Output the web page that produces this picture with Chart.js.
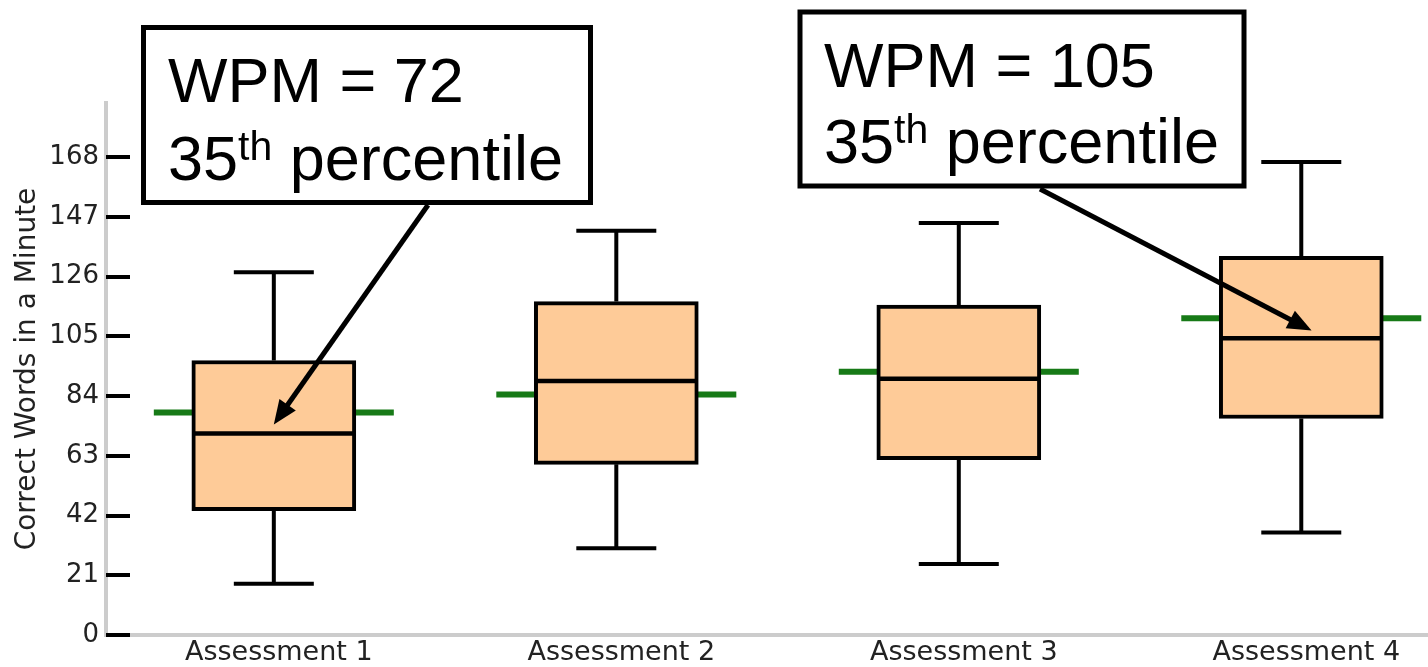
<!DOCTYPE html>
<html>
<head>
<meta charset="utf-8">
<script src="https://cdn.jsdelivr.net/npm/chart.js@4/dist/chart.umd.min.js"></script>
<style>
  html, body { margin: 0; padding: 0; background: #fff; }
  #wrap { width: 1428px; height: 667px; }
</style>
</head>
<body>
<div id="wrap"><canvas id="boxChart" width="1428" height="667"></canvas></div>
<script>
// ---------- data ----------
var categories   = ['Assessment 1', 'Assessment 2', 'Assessment 3', 'Assessment 4'];
var whiskerLow   = [18, 30.5, 25, 36];
var quartile1    = [43.7, 60, 61.6, 76.1];
var medians      = [70.8, 89.3, 90.1, 104.3];
var quartile3    = [96.5, 117.2, 116, 133.1];
var whiskerHigh  = [127.5, 142.1, 144.8, 166.3];
var benchmark    = [78.2, 84.5, 92.5, 111.3];   // green lines

var yMax = 187;
var yStep = 21;
var yTitle = 'Correct Words in a Minute';

// callouts
var noteWpm        = [72, 105];
var notePercentile = ['35', '35'];
var noteTargetX    = [0, 3.03];     // arrow tips, in data units
var noteTargetY    = [74, 107];

// ---------- look ----------
var boxFill   = '#fecb98';
var inkColor  = '#000';
var greenLine = '#177a17';
var axisGray  = '#cccccc';
var labelFont = '"DejaVu Sans", Verdana, sans-serif';
var noteFont  = '"Liberation Sans", Arial, sans-serif';

var noteBoxes = [
    {x: 143.5, y: 27.5, w: 447, h: 175, tx: 168, base1: 102, base2: 180, tailX: 428, tailY: 205},
    {x: 800,   y: 12,   w: 444, h: 174, tx: 824, base1: 87,  base2: 163, tailX: 1040, tailY: 189}
];

// green benchmark lines, drawn behind the boxes
var benchmarkPlugin = {
    id: 'benchmark',
    beforeDatasetsDraw: function(chart) {
        var ctx = chart.ctx, xs = chart.scales.x, ys = chart.scales.y;
        ctx.save();
        ctx.strokeStyle = greenLine;
        ctx.lineWidth = 6;
        benchmark.forEach(function(v, i) {
            var cx = xs.getPixelForValue(i), py = ys.getPixelForValue(v);
            ctx.beginPath();
            ctx.moveTo(cx - 120, py);
            ctx.lineTo(cx + 120, py);
            ctx.stroke();
        });
        ctx.restore();
    }
};

// whiskers, caps and medians on top of the boxes
var whiskerPlugin = {
    id: 'whiskers',
    afterDatasetsDraw: function(chart) {
        var ctx = chart.ctx, xs = chart.scales.x, ys = chart.scales.y;
        ctx.save();
        ctx.strokeStyle = inkColor;
        ctx.lineCap = 'butt';
        categories.forEach(function(c, i) {
            var cx = xs.getPixelForValue(i);
            ctx.lineWidth = 4;
            ctx.beginPath();
            ctx.moveTo(cx, ys.getPixelForValue(quartile3[i]));
            ctx.lineTo(cx, ys.getPixelForValue(whiskerHigh[i]));
            ctx.moveTo(cx, ys.getPixelForValue(quartile1[i]));
            ctx.lineTo(cx, ys.getPixelForValue(whiskerLow[i]));
            ctx.moveTo(cx - 40, ys.getPixelForValue(whiskerHigh[i]));
            ctx.lineTo(cx + 40, ys.getPixelForValue(whiskerHigh[i]));
            ctx.moveTo(cx - 40, ys.getPixelForValue(whiskerLow[i]));
            ctx.lineTo(cx + 40, ys.getPixelForValue(whiskerLow[i]));
            ctx.stroke();
            ctx.lineWidth = 4.5;
            ctx.beginPath();
            ctx.moveTo(cx - 80, ys.getPixelForValue(medians[i]));
            ctx.lineTo(cx + 80, ys.getPixelForValue(medians[i]));
            ctx.stroke();
        });
        ctx.restore();
    }
};

// short tick marks pointing into the plot + callouts
var overlayPlugin = {
    id: 'overlay',
    afterDraw: function(chart) {
        var ctx = chart.ctx, xs = chart.scales.x, ys = chart.scales.y;
        var left = chart.chartArea.left;
        ctx.save();
        ctx.strokeStyle = inkColor;
        ctx.lineWidth = 4;
        ys.ticks.forEach(function(t) {
            var py = Math.round(ys.getPixelForValue(t.value));
            ctx.beginPath();
            ctx.moveTo(left, py);
            ctx.lineTo(left + 24, py);
            ctx.stroke();
        });

        noteBoxes.forEach(function(b, i) {
            ctx.fillStyle = '#fff';
            ctx.fillRect(b.x, b.y, b.w, b.h);
            ctx.lineWidth = 5;
            ctx.strokeStyle = inkColor;
            ctx.strokeRect(b.x, b.y, b.w, b.h);

            ctx.fillStyle = inkColor;
            ctx.textBaseline = 'alphabetic';
            ctx.textAlign = 'left';
            ctx.font = '63px ' + noteFont;
            ctx.fillText('WPM = ' + noteWpm[i], b.tx, b.base1);
            var x = b.tx;
            ctx.fillText(notePercentile[i], x, b.base2);
            x += ctx.measureText(notePercentile[i]).width;
            ctx.font = '41px ' + noteFont;
            ctx.fillText('th', x, b.base2 - 20);
            x += ctx.measureText('th').width;
            ctx.font = '63px ' + noteFont;
            ctx.fillText(' percentile', x, b.base2);

            // arrow
            var tipX = xs.getPixelForValue(noteTargetX[i]);
            var tipY = ys.getPixelForValue(noteTargetY[i]);
            var dx = tipX - b.tailX, dy = tipY - b.tailY;
            var len = Math.sqrt(dx * dx + dy * dy);
            var ux = dx / len, uy = dy / len;
            var headLen = 24, headHalf = 10;
            ctx.lineWidth = 5;
            ctx.beginPath();
            ctx.moveTo(b.tailX, b.tailY);
            ctx.lineTo(tipX - ux * (headLen - 2), tipY - uy * (headLen - 2));
            ctx.stroke();
            ctx.beginPath();
            ctx.moveTo(tipX, tipY);
            ctx.lineTo(tipX - ux * headLen - uy * headHalf, tipY - uy * headLen + ux * headHalf);
            ctx.lineTo(tipX - ux * headLen + uy * headHalf, tipY - uy * headLen - ux * headHalf);
            ctx.closePath();
            ctx.fill();
        });
        ctx.restore();
    }
};

var ctx = document.getElementById('boxChart').getContext('2d');
var boxChart = new Chart(ctx, {
    type: 'bar',
    data: {
        datasets: [{
            label: 'Interquartile range',
            data: categories.map(function(c, i) { return {x: i, y: [quartile1[i], quartile3[i]]}; }),
            backgroundColor: boxFill,
            borderColor: inkColor,
            borderWidth: 4,
            borderSkipped: false,
            barThickness: 164
        }]
    },
    options: {
        responsive: false,
        animation: false,
        layout: { padding: { top: 103, left: 0, right: 0, bottom: 0 } },
        plugins: {
            legend: { display: false },
            tooltip: { enabled: false }
        },
        scales: {
            x: {
                type: 'linear',
                offset: false,
                min: -0.49,
                max: 3.37,
                grid: { display: false, drawTicks: false, offset: false },
                border: { display: true, color: axisGray, width: 4 },
                afterBuildTicks: function(s) {
                    s.ticks = categories.map(function(c, i) { return {value: i}; });
                },
                afterFit: function(s) { s.height = 32; },
                ticks: {
                    padding: 2,
                    labelOffset: 5,
                    color: '#222',
                    font: { family: labelFont, size: 27 },
                    callback: function(v) { return categories[v]; }
                }
            },
            y: {
                min: 0,
                max: yMax,
                grid: { display: false, drawTicks: false },
                border: { display: true, color: axisGray, width: 4 },
                afterFit: function(s) { s.width = 106; },
                ticks: {
                    stepSize: yStep,
                    includeBounds: false,
                    padding: 7,
                    color: '#222',
                    font: { family: labelFont, size: 26 }
                },
                title: {
                    display: true,
                    text: yTitle,
                    color: '#222',
                    font: { family: labelFont, size: 28, weight: 'normal' },
                    padding: { top: 11, bottom: 0 }
                }
            }
        }
    },
    plugins: [benchmarkPlugin, whiskerPlugin, overlayPlugin]
});
</script>
</body>
</html>
